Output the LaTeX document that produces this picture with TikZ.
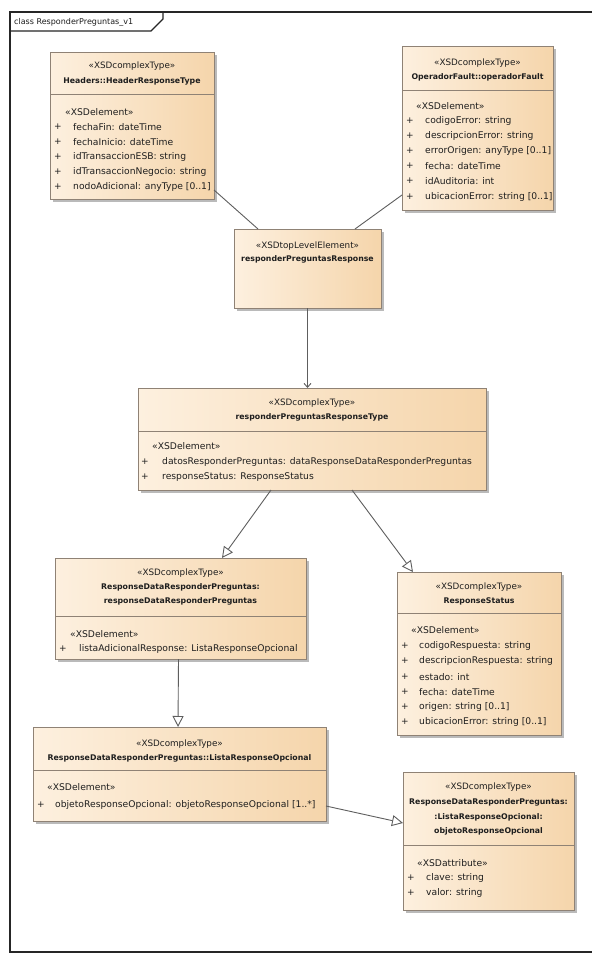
\documentclass[tikz,border=0pt]{standalone}
\usepackage{fontspec}
\setmainfont{DejaVu Sans}
\usetikzlibrary{arrows.meta,shadows,calc}
\definecolor{boxL}{HTML}{FDF0DF}
\definecolor{boxR}{HTML}{F5D5AB}
\definecolor{boxline}{HTML}{8F8275}
\definecolor{conn}{HTML}{5E5E5E}
\definecolor{txt}{HTML}{1E1E1E}
\begin{document}
\begin{tikzpicture}[x=1pt,y=-1pt,
  cls/.style={draw=boxline, line width=0.8pt, left color=boxL, right color=boxR,
    inner sep=0pt, outer sep=0pt,
    drop shadow={shadow xshift=2.5pt, shadow yshift=-2.5pt, fill=black!45, opacity=0.6}},
  divl/.style={draw=boxline, line width=0.7pt},
  st/.style={font=\fontsize{8.8}{10}\selectfont, text=txt, inner sep=0pt},
  nm/.style={font=\fontsize{7.8}{9}\selectfont\bfseries, text=txt, inner sep=0pt},
  el/.style={font=\fontsize{9.2}{10}\selectfont, text=txt, inner sep=0pt, anchor=west},
  pl/.style={font=\fontsize{9}{10}\selectfont, text=txt, inner sep=0pt},
  assoc/.style={draw=conn, line width=0.9pt},
  gen/.style={draw=conn, line width=0.9pt, -{Triangle[open,length=11pt,width=11pt,fill=white]}},
  dep/.style={draw=conn, line width=0.9pt, -{Straight Barb[length=4pt,width=7pt]}},
  frame/.style={draw=black!85, line width=1.4pt}]
\useasboundingbox (0,0) rectangle (592,961);
\fill[white] (0,0) rectangle (592,961);

% frame
\draw[frame] (592,12) -- (10,12) -- (10,952) -- (592,952);
\draw[draw=black!85, line width=1.1pt] (10,31) -- (151,31) -- (163,19) -- (163,12);
\node[font=\fontsize{8}{9}\selectfont, text=txt, inner sep=0pt, anchor=west] (title) at (14,22) {class ResponderPreguntas\_v1};

% B1 Headers
\node[cls, minimum width=164pt, minimum height=147pt] (hdr) at (132,125.5) {};
\draw[divl] (50,94) -- (214,94);
\node[st] (hdr-st) at (132,66) {«XSDcomplexType»};
\node[nm] (hdr-nm) at (132,81) {Headers::HeaderResponseType};
\node[el] (hdr-el) at (65,112) {«XSDelement»};
\foreach \i/\y/\t in {1/127/{fechaFin: dateTime},2/142/{fechaInicio: dateTime},3/157/{idTransaccionESB: string},4/172/{idTransaccionNegocio: string},5/187/{nodoAdicional: anyType [0..1]}}{
  \node[pl] (hdr-p\i) at (58,\y) {+};
  \node[el] (hdr-a\i) at (73,\y) {\t};
}

% B2 OperadorFault
\node[cls, minimum width=151pt, minimum height=164pt] (op) at (477.5,128) {};
\draw[divl] (402,90) -- (553,90);
\node[st] (op-st) at (477.5,63) {«XSDcomplexType»};
\node[nm] (op-nm) at (477.5,77) {OperadorFault::operadorFault};
\node[el] (op-el) at (416,106) {«XSDelement»};
\foreach \i/\y/\t in {1/121/{codigoError: string},2/136/{descripcionError: string},3/151/{errorOrigen: anyType [0..1]},4/166/{fecha: dateTime},5/181/{idAuditoria: int},6/197/{ubicacionError: string [0..1]}}{
  \node[pl] (op-p\i) at (410,\y) {+};
  \node[el] (op-a\i) at (425,\y) {\t};
}

% B3 responderPreguntasResponse
\node[cls, minimum width=147pt, minimum height=79pt] (resp) at (307.5,268.5) {};
\node[st] (resp-st) at (307.5,246) {«XSDtopLevelElement»};
\node[nm] (resp-nm) at (307.5,259) {responderPreguntasResponse};

% B4 responderPreguntasResponseType
\node[cls, minimum width=348pt, minimum height=102pt] (type) at (312,439) {};
\draw[divl] (138,431) -- (486,431);
\node[st] (type-st) at (312,403) {«XSDcomplexType»};
\node[nm] (type-nm) at (312,417) {responderPreguntasResponseType};
\node[el] (type-el) at (152,446) {«XSDelement»};
\node[pl] (type-p1) at (145,462) {+};
\node[el] (type-a1) at (162,462) {datosResponderPreguntas: dataResponseDataResponderPreguntas};
\node[pl] (type-p2) at (145,477) {+};
\node[el] (type-a2) at (162,477) {responseStatus: ResponseStatus};

% B5 ResponseDataResponderPreguntas
\node[cls, minimum width=251pt, minimum height=101pt] (rdata) at (180.5,608.5) {};
\draw[divl] (55,616) -- (306,616);
\node[st] (rdata-st) at (180.5,573) {«XSDcomplexType»};
\node[nm] (rdata-nm1) at (180.5,587) {ResponseDataResponderPreguntas:};
\node[nm] (rdata-nm2) at (180.5,601) {responseDataResponderPreguntas};
\node[el] (rdata-el) at (70,634) {«XSDelement»};
\node[pl] (rdata-p1) at (63,649) {+};
\node[el] (rdata-a1) at (79,649) {listaAdicionalResponse: ListaResponseOpcional};

% B6 ResponseStatus
\node[cls, minimum width=164pt, minimum height=163pt] (status) at (479,653.5) {};
\draw[divl] (397,613) -- (561,613);
\node[st] (status-st) at (479,587) {«XSDcomplexType»};
\node[nm] (status-nm) at (479,601) {ResponseStatus};
\node[el] (status-el) at (411,630) {«XSDelement»};
\foreach \i/\y/\t in {1/646/{codigoRespuesta: string},2/661/{descripcionRespuesta: string},3/677/{estado: int},4/692/{fecha: dateTime},5/707/{origen: string [0..1]},6/722/{ubicacionError: string [0..1]}}{
  \node[pl] (status-p\i) at (405,\y) {+};
  \node[el] (status-a\i) at (419,\y) {\t};
}

% B7 ListaResponseOpcional
\node[cls, minimum width=293pt, minimum height=94pt] (lista) at (179.5,774) {};
\draw[divl] (33,770) -- (326,770);
\node[st] (lista-st) at (179.5,744) {«XSDcomplexType»};
\node[nm] (lista-nm) at (179.5,758) {ResponseDataResponderPreguntas::ListaResponseOpcional};
\node[el] (lista-el) at (47,787) {«XSDelement»};
\node[pl] (lista-p1) at (41,805) {+};
\node[el] (lista-a1) at (55,805) {objetoResponseOpcional: objetoResponseOpcional [1..*]};

% B8 objetoResponseOpcional
\node[cls, minimum width=171pt, minimum height=138pt] (obj) at (488.5,841) {};
\draw[divl] (403,845) -- (574,845);
\node[st] (obj-st) at (488.5,787) {«XSDcomplexType»};
\node[nm] (obj-nm1) at (488.5,802) {ResponseDataResponderPreguntas:};
\node[nm] (obj-nm2) at (488.5,817) {:ListaResponseOpcional:};
\node[nm] (obj-nm3) at (488.5,831) {objetoResponseOpcional};
\node[el] (obj-el) at (417,863) {«XSDattribute»};
\node[pl] (obj-p1) at (411,878) {+};
\node[el] (obj-a1) at (426,878) {clave: string};
\node[pl] (obj-p2) at (411,893) {+};
\node[el] (obj-a2) at (426,893) {valor: string};

% connectors
\draw[assoc] ($(hdr.south east)+(0,-9)$) -- ($(resp.north west)+(24,0)$);
\draw[assoc] ($(op.south west)+(0,-15)$) -- ($(resp.north east)+(-26,0)$);
\draw[dep] (resp.south) -- (resp.south |- type.north);
\draw[gen] ($(type.south west)+(133,0)$) -- ($(rdata.north west)+(167,0)$);
\draw[gen] ($(type.south west)+(214,0)$) -- ($(status.north west)+(16,0)$);
\draw[gen] ($(rdata.south)+(-2,0)$) -- ($(lista.north)+(-1.5,0)$);
\draw[gen] ($(lista.east)+(0,32)$) -- ($(obj.west)+(0,-18)$);
\end{tikzpicture}
\end{document}
